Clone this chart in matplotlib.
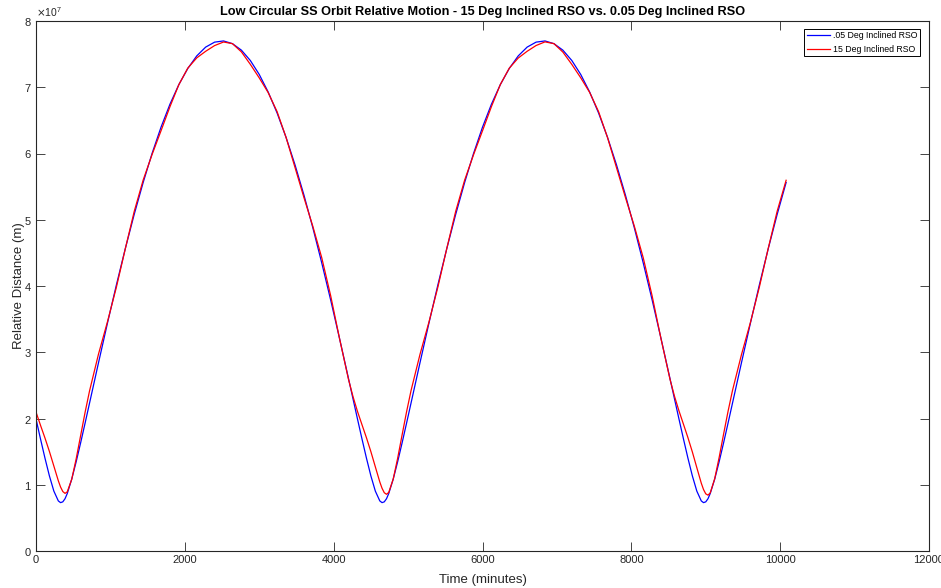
import matplotlib
matplotlib.use("Agg")
import matplotlib.pyplot as plt
from matplotlib.ticker import ScalarFormatter

plt.rcParams['font.family'] = ['Liberation Sans', 'DejaVu Sans']

# time (minutes)
time_min = [0, 60, 120, 180, 240, 300, 330, 360, 390, 420, 480, 540, 600, 660, 720,
            840, 960, 1080, 1200, 1320, 1440, 1560, 1680, 1800, 1920, 2040, 2160,
            2280, 2400, 2520, 2640, 2760, 2880, 3000, 3120, 3240, 3360, 3480, 3600,
            3720, 3840, 3960, 4080, 4200,
            4260, 4320, 4380, 4440, 4500, 4560, 4620, 4650, 4680, 4710, 4740, 4800,
            4860, 4920, 4980, 5040,
            5160, 5280, 5400, 5520, 5640, 5760, 5880, 6000, 6120, 6240, 6360, 6480,
            6600, 6720, 6840, 6960, 7080, 7200, 7320, 7440, 7560, 7680, 7800, 7920,
            8040, 8160, 8280, 8400, 8520,
            8580, 8640, 8700, 8760, 8820, 8880, 8940, 8970, 9000, 9030, 9060, 9120,
            9180, 9240, 9300, 9360,
            9480, 9600, 9720, 9840, 9960, 10080]

# relative distance, units of 1e7 m
dist_005 = [1.993, 1.694, 1.404, 1.134, 0.904, 0.756, 0.730, 0.742, 0.789, 0.867, 1.084,
            1.348, 1.634, 1.932, 2.235,
            2.842, 3.438, 4.015, 4.564, 5.082, 5.562, 6.002, 6.397, 6.744, 7.041, 7.284,
            7.473, 7.606, 7.681, 7.699, 7.658, 7.560, 7.404, 7.193, 6.928, 6.611, 6.244,
            5.831, 5.375, 4.879, 4.348, 3.787, 3.202, 2.600,
            2.296, 1.993, 1.694, 1.404, 1.134, 0.904, 0.756, 0.730, 0.742, 0.789, 0.867,
            1.084, 1.348, 1.634, 1.932, 2.235,
            2.842, 3.438, 4.015, 4.564, 5.082, 5.562, 6.002, 6.397, 6.744, 7.041, 7.284,
            7.473, 7.606, 7.681, 7.699, 7.658, 7.560, 7.404, 7.193, 6.928, 6.611, 6.244,
            5.831, 5.375, 4.879, 4.348, 3.787, 3.202, 2.600,
            2.296, 1.993, 1.694, 1.404, 1.134, 0.904, 0.756, 0.730, 0.742, 0.789, 0.867,
            1.084, 1.348, 1.634, 1.932, 2.235,
            2.842, 3.438, 4.015, 4.564, 5.082, 5.562]

dist_15 = [2.098, 1.899, 1.707, 1.503, 1.282, 1.060, 0.966, 0.898, 0.870, 0.893, 1.082,
           1.392, 1.744, 2.095, 2.419,
           2.973, 3.459, 3.981, 4.562, 5.126, 5.599, 5.985, 6.343, 6.706, 7.040, 7.289,
           7.443, 7.543, 7.629, 7.683, 7.658, 7.534, 7.346, 7.141, 6.919, 6.631, 6.244,
           5.791, 5.337, 4.901, 4.426, 3.852, 3.201, 2.587,
           2.330, 2.107, 1.908, 1.711, 1.500, 1.270, 1.042, 0.947, 0.880, 0.856, 0.884,
           1.085, 1.401, 1.755, 2.103, 2.423,
           2.968, 3.454, 3.982, 4.566, 5.128, 5.598, 5.982, 6.343, 6.708, 7.042, 7.288,
           7.441, 7.543, 7.630, 7.685, 7.658, 7.531, 7.345, 7.143, 6.922, 6.631, 6.241,
           5.789, 5.339, 4.904, 4.426, 3.848, 3.197, 2.590,
           2.336, 2.116, 1.915, 1.713, 1.495, 1.258, 1.024, 0.928, 0.863, 0.843, 0.877,
           1.090, 1.412, 1.766, 2.110, 2.426,
           2.964, 3.449, 3.982, 4.570, 5.130, 5.596]

x_ticks = [0, 2000, 4000, 6000, 8000, 10000, 12000]
y_ticks = [0, 1e7, 2e7, 3e7, 4e7, 5e7, 6e7, 7e7, 8e7]

d005 = [v * 1e7 for v in dist_005]
d15 = [v * 1e7 for v in dist_15]

fig = plt.figure(figsize=(9.41, 5.88), dpi=100)
ax = fig.add_axes([36 / 941, 37 / 588, 893 / 941, 530 / 588])

ax.plot(time_min, d005, color=(0, 0, 1), lw=0.9, label='.05 Deg Inclined RSO')
ax.plot(time_min, d15, color=(1, 0, 0), lw=0.9, label='15 Deg Inclined RSO')

ax.set_xlim(0, 12000)
ax.set_ylim(0, 8e7)
ax.set_xticks(x_ticks)
ax.set_yticks(y_ticks)

fmt = ScalarFormatter(useMathText=True)
fmt.set_powerlimits((0, 0))
ax.yaxis.set_major_formatter(fmt)
ax.yaxis.get_offset_text().set_fontsize(7.5)
ax.yaxis.get_offset_text().set_color('#262626')

ax.tick_params(direction='in', length=6.5, width=0.6, colors='#262626',
               labelsize=8, top=True, right=True, pad=3)
for s in ax.spines.values():
    s.set_color('#262626')
    s.set_linewidth(0.8)

ax.set_xlabel('Time (minutes)', fontsize=9.5, color='#262626', labelpad=6)
ax.set_ylabel('Relative Distance (m)', fontsize=9.5, color='#262626', labelpad=-1)
ax.set_title('Low Circular SS Orbit Relative Motion - 15 Deg Inclined RSO vs. 0.05 Deg Inclined RSO',
             fontsize=9.2, fontweight='bold', pad=4)

leg = ax.legend(loc='upper right', fontsize=6.3, fancybox=False, framealpha=1,
                edgecolor='black', borderpad=0.25, handlelength=2.7,
                handletextpad=0.35, labelspacing=0.5, borderaxespad=0,
                bbox_to_anchor=(884 / 893, 522 / 530))
leg.get_frame().set_linewidth(0.7)

fig.savefig('out.png', dpi=100)
